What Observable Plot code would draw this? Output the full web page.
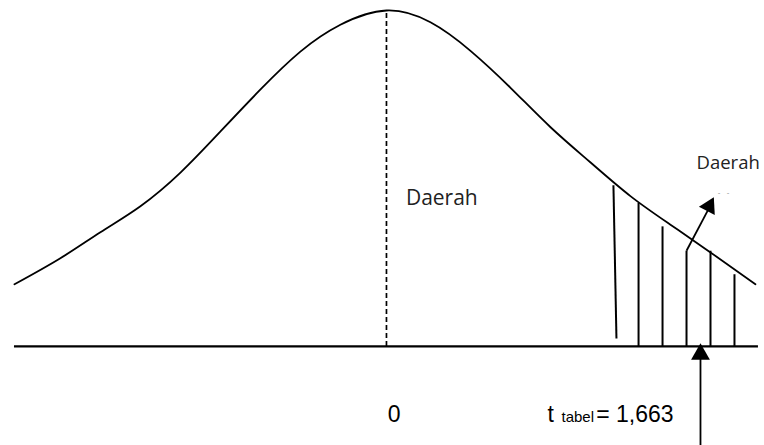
<!DOCTYPE html>
<html>
<head>
<meta charset="utf-8">
<script src="https://cdn.jsdelivr.net/npm/d3@7"></script>
<script src="https://cdn.jsdelivr.net/npm/@observablehq/plot@0.6"></script>
<style>
  html, body { margin: 0; padding: 0; background: #fff; }
  #chart svg { display: block; }
</style>
</head>
<body>
<div id="chart"></div>
<script>
// t-distribution curve (t value, density)
const curveT = [-1.970, -1.727, -1.515, -1.303, -1.091, -0.879, -0.667, -0.456, -0.244, 0,
  0.233, 0.445, 0.657, 0.869, 1.081, 1.292, 1.504, 1.716, 1.954];
const curveDensity = [0.074, 0.105, 0.136, 0.167, 0.207, 0.256, 0.306, 0.351, 0.383, 0.400,
  0.386, 0.352, 0.308, 0.261, 0.219, 0.179, 0.145, 0.112, 0.074];

// hatched rejection region
const hatchTopT = [1.202, 1.335, 1.462, 1.589, 1.716, 1.843];
const hatchBottomT = [1.218, 1.335, 1.462, 1.589, 1.716, 1.843];
const hatchTop = [0.192, 0.171, 0.143, 0.114, 0.114, 0.086];
const hatchBottom = [0.0095, 0, 0, 0, 0, 0];

const tTable = 1.663;
const axisStart = -1.970, axisEnd = 1.970;
const peakDensity = 0.400;

// labels
const regionLabel = "Daerah";
const zeroLabel = "0";
const tLabel = "t";
const tSubLabel = "tabel";
const tValueLabel = "= 1,663";

const curve = curveT.map((t, i) => ({t, d: curveDensity[i]}));
const hatch = hatchTopT.map((t, i) => ({t1: t, d1: hatchTop[i], t2: hatchBottomT[i], d2: hatchBottom[i]}));

const font = "'Open Sans', sans-serif";
const arial = "'Liberation Sans', Arial, sans-serif";

const chart = Plot.plot({
  width: 764,
  height: 445,
  marginTop: 0, marginRight: 0, marginBottom: 0, marginLeft: 0,
  style: {background: "#fff"},
  x: {domain: [-2.044, 2.002], axis: null},
  y: {domain: [-0.1179, 0.4119], axis: null},
  marks: [
    Plot.ruleY([0], {x1: axisStart, x2: axisEnd, stroke: "#000", strokeWidth: 2.3}),
    Plot.ruleX([0], {y1: 0, y2: peakDensity, stroke: "#000", strokeWidth: 1.7, strokeDasharray: "5,3"}),
    Plot.line(curve, {x: "t", y: "d", curve: "natural", stroke: "#000", strokeWidth: 1.8}),
    Plot.link(hatch, {x1: "t1", y1: "d1", x2: "t2", y2: "d2", stroke: "#000", strokeWidth: 2}),
    // arrow pointing to the region label
    Plot.link([{x1: 1.589, y1: 0.114, x2: 1.702, y2: 0.162}], {x1: "x1", y1: "y1", x2: "x2", y2: "y2", stroke: "#000", strokeWidth: 1.8}),
    Plot.dot([{x: 1.709, y: 0.1669}], {x: "x", y: "y", symbol: "triangle", r: 6.6, rotate: 27, fill: "#000", stroke: "none"}),
    // arrow pointing at t table
    Plot.ruleX([tTable], {y1: -0.118, y2: -0.006, stroke: "#000", strokeWidth: 1.8}),
    Plot.dot([tTable], {x: d => d, y: -0.0092, symbol: "triangle", r: 7, fill: "#000", stroke: "none"}),
    // texts
    Plot.text([regionLabel], {x: 0.103, y: 0.169, text: d => d, textAnchor: "start", lineAnchor: "bottom", fontSize: 21, fontFamily: font, fill: "#222"}),
    Plot.text([regionLabel], {x: 1.642, y: 0.2107, text: d => d, textAnchor: "start", lineAnchor: "bottom", fontSize: 18.5, fontFamily: font, fill: "#222"}),
    Plot.text(["-   -"], {x: 1.785, y: 0.183, text: d => d, textAnchor: "middle", fontSize: 8, fontFamily: font, fill: "#888"}),
    Plot.text([zeroLabel], {x: 0.040, y: -0.0905, text: d => d, textAnchor: "middle", lineAnchor: "bottom", fontSize: 23, fontFamily: arial, fill: "#000"}),
    Plot.text([tLabel], {x: 0.853, y: -0.0905, text: d => d, textAnchor: "start", lineAnchor: "bottom", fontSize: 23, fontFamily: arial, fill: "#000"}),
    Plot.text([tSubLabel], {x: 0.927, y: -0.0905, text: d => d, textAnchor: "start", lineAnchor: "bottom", fontSize: 15, fontFamily: arial, fill: "#000"}),
    Plot.text([tValueLabel], {x: 1.111, y: -0.0905, text: d => d, textAnchor: "start", lineAnchor: "bottom", fontSize: 23, fontFamily: arial, fill: "#000"})
  ]
});
document.getElementById("chart").appendChild(chart);
</script>
</body>
</html>
